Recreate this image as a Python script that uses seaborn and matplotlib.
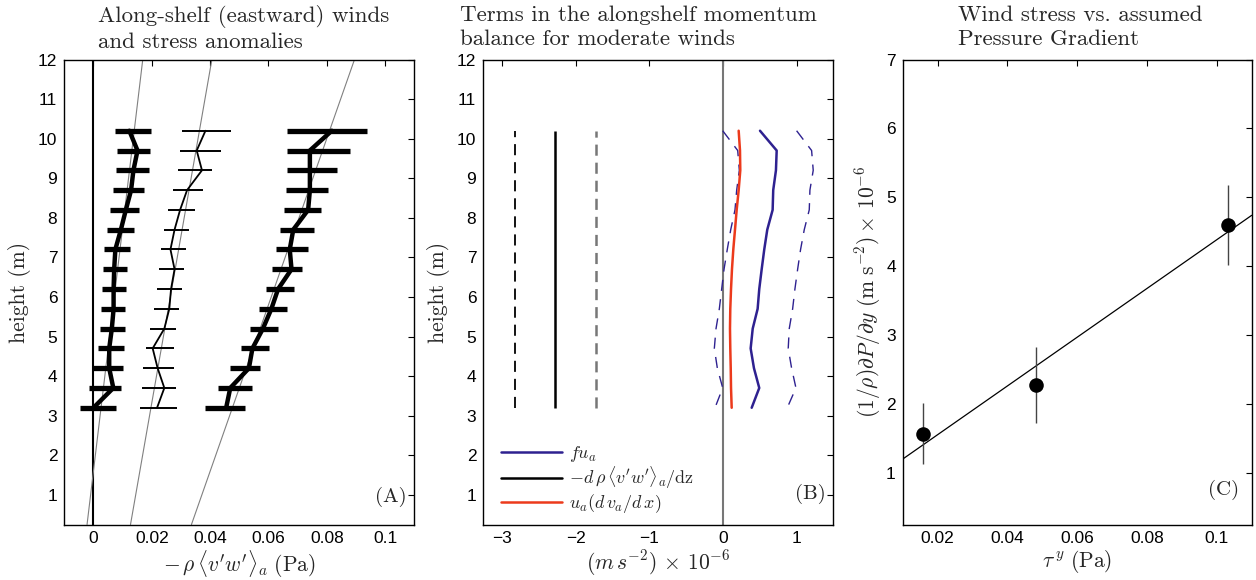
import numpy as np
import pandas as pd
import matplotlib
matplotlib.use("Agg")
import matplotlib.pyplot as plt
import seaborn as sns

# ---------------- data ----------------
heights = [10.2, 9.7, 9.2, 8.7, 8.2, 7.7, 7.2, 6.7, 6.2, 5.7, 5.2, 4.7, 4.2, 3.7, 3.2]

# Panel A: stress anomaly profiles (Pa)
s1_line = [0.0123, 0.0151, 0.0137, 0.0129, 0.0111, 0.0094, 0.0075, 0.0071, 0.0069, 0.0069, 0.0063, 0.0054, 0.0054, 0.0068, 0.0000]
s1_lo = [0.0075, 0.0079, 0.0077, 0.0068, 0.0057, 0.0046, 0.0037, 0.0031, 0.0028, 0.0025, 0.0021, 0.0014, 0.0000, -0.0017, -0.0045]
s1_hi = [0.0197, 0.0195, 0.0189, 0.0174, 0.0157, 0.0139, 0.0125, 0.0116, 0.0111, 0.0108, 0.0108, 0.0106, 0.0101, 0.0093, 0.0078]

s2_line = [0.0384, 0.0354, 0.0372, 0.0321, 0.0297, 0.0278, 0.0264, 0.0278, 0.0266, 0.0260, 0.0243, 0.0203, 0.0220, 0.0243, 0.0218]
s2_lo = [0.0303, 0.0297, 0.0289, 0.0273, 0.0255, 0.0241, 0.0230, 0.0225, 0.0219, 0.0209, 0.0193, 0.0179, 0.0171, 0.0165, 0.0160]
s2_hi = [0.0470, 0.0438, 0.0407, 0.0376, 0.0349, 0.0328, 0.0318, 0.0311, 0.0305, 0.0294, 0.0284, 0.0275, 0.0275, 0.0282, 0.0287]

s3_line = [0.0817, 0.0742, 0.0742, 0.0742, 0.0736, 0.0685, 0.0673, 0.0679, 0.0633, 0.0610, 0.0581, 0.0545, 0.0533, 0.0469, 0.0455]
s3_lo = [0.0662, 0.0662, 0.0662, 0.0660, 0.0654, 0.0641, 0.0627, 0.0612, 0.0593, 0.0568, 0.0538, 0.0505, 0.0467, 0.0427, 0.0382]
s3_hi = [0.0937, 0.0880, 0.0834, 0.0805, 0.0780, 0.0756, 0.0735, 0.0714, 0.0689, 0.0662, 0.0631, 0.0601, 0.0572, 0.0545, 0.0521]

ref_heights = [0.25, 12.0]
ref1_x = [-0.0022, 0.0169]
ref2_x = [0.0127, 0.0406]
ref3_x = [0.0336, 0.0895]

# Panel B: momentum terms (m s^-2 x 1e-6)
fu = [0.503, 0.730, 0.720, 0.683, 0.675, 0.602, 0.561, 0.526, 0.493, 0.471, 0.404, 0.376, 0.421, 0.493, 0.390]
fu_lo = [-0.004, 0.200, 0.222, 0.186, 0.163, 0.105, 0.058, 0.014, -0.018, -0.050, -0.095, -0.118, -0.077, -0.004, -0.109]
fu_hi = [1.001, 1.205, 1.227, 1.182, 1.173, 1.105, 1.055, 1.015, 0.978, 0.947, 0.901, 0.887, 0.933, 0.992, 0.874]
adv = [0.213, 0.231, 0.235, 0.213, 0.186, 0.163, 0.140, 0.122, 0.109, 0.099, 0.095, 0.099, 0.105, 0.109, 0.118]
stressdiv = [-2.28]
stressdiv_lo = [-2.835]
stressdiv_hi = [-1.73]

# Panel C: wind stress vs pressure gradient
tau = [0.0157, 0.0481, 0.1033]
dpdy = [1.57, 2.28, 4.60]
dpdy_lo = [1.13, 1.73, 4.02]
dpdy_hi = [2.01, 2.83, 5.18]

# ---------------- style ----------------
sns.set_theme(style="white")
plt.rcParams["font.family"] = ["Liberation Sans", "DejaVu Sans"]
plt.rcParams["mathtext.fontset"] = "cm"
plt.rcParams["lines.scale_dashes"] = False
plt.rcParams["axes.edgecolor"] = "black"
plt.rcParams["axes.linewidth"] = 1.0

W, H = 1256, 580
fig = plt.figure(figsize=(W / 100, H / 100), dpi=100)

def px_axes(left, right, top=59.5, bottom=524.5):
    return fig.add_axes([left / W, 1 - bottom / H, (right - left) / W, (bottom - top) / H])

axA = px_axes(64.3, 414.3)
axB = px_axes(483.3, 833.3)
axC = px_axes(902.7, 1251.7)

CM = dict(fontfamily="cmr10")
LBL = 15.5

def style(ax):
    ax.tick_params(direction="in", top=True, right=True, length=4, width=0.8,
                   labelsize=12.5, colors="black", pad=5)
    for s in ax.spines.values():
        s.set_color("black")
        s.set_linewidth(1.0)

# ---------------- Panel A ----------------
ax = axA
ax.axvline(0, color="black", lw=1.5, zorder=1)
for rx in (ref1_x, ref2_x, ref3_x):
    sns.lineplot(x=rx, y=ref_heights, orient="y", sort=False, estimator=None,
                 color="#808080", lw=0.8, ax=ax)
for line, lo, hi, lw_line, lw_bar in ((s1_line, s1_lo, s1_hi, 3.2, 3.8),
                                       (s2_line, s2_lo, s2_hi, 1.3, 1.4),
                                       (s3_line, s3_lo, s3_hi, 3.2, 3.8)):
    ax.hlines(heights, lo, hi, color="black", lw=lw_bar, zorder=3)
    sns.lineplot(x=line, y=heights, orient="y", sort=False, estimator=None,
                 color="black", lw=lw_line, ax=ax, zorder=4)
ax.set_xlim(-0.01, 0.11)
ax.set_ylim(0.25, 12)
ax.set_xticks([0, 0.02, 0.04, 0.06, 0.08, 0.1])
ax.set_xticklabels(["0", "0.02", "0.04", "0.06", "0.08", "0.1"])
ax.set_yticks(range(1, 13))
ax.set_xlabel(r"$-\,\rho\,\langle v'w'\rangle_a\ (\mathrm{Pa})$", fontsize=LBL, labelpad=1)
ax.set_ylabel("height (m)", fontsize=LBL, labelpad=5, **CM)
ax.text(0.978, 0.059, "(A)", transform=ax.transAxes, ha="right", va="center", fontsize=15, **CM)
style(ax)

# ---------------- Panel B ----------------
ax = axB
ax.axvline(0, color="#777777", lw=1.5, zorder=1)
hmin, hmax = min(heights), max(heights)
ax.vlines(stressdiv, hmin, hmax, color="black", lw=1.8)
ax.vlines(stressdiv_lo, hmin, hmax, color="black", lw=1.3, linestyles=[(0, (8, 5))])
ax.vlines(stressdiv_hi, hmin, hmax, color="#777777", lw=1.8, linestyles=[(0, (8, 5))])
BLUE = "#2e2190"
RED = "#ec3a1c"
sns.lineplot(x=fu_lo, y=heights, orient="y", sort=False, estimator=None,
             color=BLUE, lw=1.0, linestyle=(0, (8, 6)), ax=ax)
sns.lineplot(x=fu_hi, y=heights, orient="y", sort=False, estimator=None,
             color=BLUE, lw=1.0, linestyle=(0, (8, 6)), ax=ax)
sns.lineplot(x=fu, y=heights, orient="y", sort=False, estimator=None,
             color=BLUE, lw=1.8, ax=ax, label=r"$fu_a$")
ax.plot([], [], color="black", lw=1.8, label=r"$-d\,\rho\,\langle v'w'\rangle_a/\mathrm{d}\mathrm{z}$")
sns.lineplot(x=adv, y=heights, orient="y", sort=False, estimator=None,
             color=RED, lw=1.8, ax=ax, label=r"$u_a(d\,v_a/d\,x)$")
ax.set_xlim(-3.26, 1.5)
ax.set_ylim(0.25, 12)
ax.set_xticks([-3, -2, -1, 0, 1])
ax.set_yticks(range(1, 13))
ax.set_xlabel(r"$(m\,s^{-2})\,\times\,10^{-6}$", fontsize=LBL, labelpad=1)
ax.set_ylabel("height (m)", fontsize=LBL, labelpad=5, **CM)
ax.legend(loc="lower left", bbox_to_anchor=(0.05, 0.02), frameon=False, fontsize=13,
          handlelength=3.4, handletextpad=0.35, labelspacing=0.05, borderaxespad=0, borderpad=0)
ax.text(0.978, 0.065, "(B)", transform=ax.transAxes, ha="right", va="center", fontsize=15, **CM)
style(ax)

# ---------------- Panel C ----------------
ax = axC
slope, intercept = np.polyfit(tau, dpdy, 1)
xfit = np.array([0.01, 0.11])
ax.plot(xfit, intercept + slope * xfit, color="black", lw=0.9, zorder=2)
ax.vlines(tau, dpdy_lo, dpdy_hi, color="#444444", lw=1.0, zorder=3)
sns.scatterplot(x=tau, y=dpdy, color="black", s=110, edgecolor="black", linewidth=0, ax=ax, zorder=4)
ax.set_xlim(0.01, 0.11)
ax.set_ylim(0.25, 7)
ax.set_xticks([0.02, 0.04, 0.06, 0.08, 0.1])
ax.set_xticklabels(["0.02", "0.04", "0.06", "0.08", "0.1"])
ax.set_yticks(range(1, 8))
ax.set_xlabel(r"$\tau^{\,y}\ (\mathrm{Pa})$", fontsize=LBL, labelpad=1)
ax.set_ylabel(r"$(1/\rho)\partial P/\partial y\ (\mathrm{m\ s}^{-2})\times\,10^{-6}$", fontsize=LBL, labelpad=2)
ax.text(0.965, 0.075, "(C)", transform=ax.transAxes, ha="right", va="center", fontsize=15, **CM)
style(ax)

# ---------------- titles ----------------
TS = 16.5
for x0, txt in ((98, "Along-shelf (eastward) winds\nand stress anomalies"),
                (460, "Terms in the alongshelf momentum\nbalance for moderate winds"),
                (958, "Wind stress vs. assumed\nPressure Gradient")):
    fig.text(x0 / W, 1 - 5 / H, txt, ha="left", va="top", fontsize=TS, linespacing=1.32, **CM)

fig.savefig("out.png", dpi=100, facecolor="white")
